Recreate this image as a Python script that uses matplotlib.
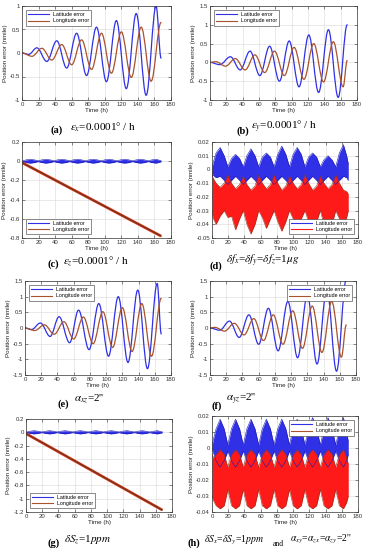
import numpy as np
import matplotlib
matplotlib.use("Agg")
import matplotlib.pyplot as plt
from matplotlib.path import Path
from matplotlib.patches import PathPatch
from matplotlib.lines import Line2D
from matplotlib.ticker import MultipleLocator, FuncFormatter

plt.rcParams['font.family'] = ['Liberation Sans', 'DejaVu Sans']
plt.rcParams['mathtext.fontset'] = 'stix'
plt.rcParams['axes.unicode_minus'] = False

BLUE = '#3030e6'
BROWN = '#a8522e'
RED = '#ff1a1a'

# ---- (a) eps_x : extrema (time h, error nmile)
a_lat_t = [0, 8, 18, 30, 42, 54, 66, 78, 90, 102, 114, 126, 138, 150, 162, 168]
a_lat_v = [0, -0.03, 0.11, -0.18, 0.26, -0.32, 0.42, -0.48, 0.55, -0.61, 0.69, -0.76, 0.84, -0.9, 1.0, -0.11]
a_lon_t = [0, 12, 24, 36, 48, 60, 72, 84, 96, 108, 120, 132, 144, 156, 168]
a_lon_v = [0, -0.07, 0.1, -0.15, 0.18, -0.25, 0.28, -0.35, 0.42, -0.43, 0.45, -0.52, 0.55, -0.6, 0.65]

# ---- (b) eps_y
b_lat_t = [0, 12, 25, 37, 49, 61, 73, 85, 97, 109, 121, 133, 145, 157, 168]
b_lat_v = [0, -0.06, 0.15, -0.2, 0.3, -0.35, 0.43, -0.5, 0.57, -0.65, 0.73, -0.8, 0.87, -0.93, 1.0]
b_lon_t = [0, 7, 19, 31, 43, 55, 67, 79, 91, 103, 115, 127, 139, 151, 163, 168]
b_lon_v = [0, 0.02, -0.1, 0.1, -0.2, 0.2, -0.27, 0.3, -0.35, 0.4, -0.45, 0.5, -0.52, 0.55, -0.65, 0.05]

# ---- (e) alpha_xz
e_lat_t = [0, 8, 19, 31, 42, 55, 66, 79, 91, 103, 115, 127, 139, 151, 163, 168]
e_lat_v = [0, -0.05, 0.16, -0.27, 0.36, -0.47, 0.57, -0.69, 0.78, -0.9, 1.0, -1.1, 1.21, -1.3, 1.42, -0.19]
e_lon_t = [0, 12, 24, 36, 48, 60, 72, 84, 96, 108, 120, 132, 144, 156, 168]
e_lon_v = [0, -0.08, 0.1, -0.2, 0.2, -0.35, 0.35, -0.5, 0.52, -0.62, 0.65, -0.75, 0.78, -0.9, 0.95]

# ---- (f) alpha_yz
f_lat_t = [0, 12, 24, 36, 48, 60, 72, 84, 96, 108, 120, 132, 144, 156, 168]
f_lat_v = [0, -0.07, 0.22, -0.3, 0.42, -0.52, 0.63, -0.73, 0.85, -0.95, 1.05, -1.15, 1.25, -1.38, 1.55]
f_lon_t = [0, 6, 18, 30, 42, 54, 66, 78, 90, 102, 114, 126, 138, 150, 162, 168]
f_lon_v = [0, 0.02, -0.1, 0.15, -0.22, 0.3, -0.4, 0.42, -0.52, 0.55, -0.65, 0.7, -0.78, 0.85, -0.93, 0.1]

# ---- band envelopes (lobe centres and nodes)
band_t = [0, 1, 5, 10, 15, 19.5, 24, 29, 34, 38.5, 43, 48, 53, 57.5, 62, 67, 72, 76.5, 81, 86,
          91, 95.5, 100, 105, 110, 114.5, 119, 124, 129, 133.5, 138, 143, 148, 152.5, 157, 162, 166, 168]

# (c) eps_z and (g) dS_z : latitude band half width, longitude ramp
c_half = [0.004, 0.004, 0.014, 0.02, 0.014, 0.004, 0.014, 0.02, 0.014, 0.004, 0.014, 0.02, 0.014, 0.004,
          0.014, 0.02, 0.014, 0.004, 0.014, 0.02, 0.014, 0.004, 0.014, 0.02, 0.014, 0.004, 0.014, 0.02,
          0.014, 0.004, 0.014, 0.02, 0.014, 0.004, 0.014, 0.02, 0.01, 0.006]
c_lon_t = [0, 168]
c_lon_v = [-0.015, -0.78]
g_half = [0.005, 0.005, 0.016, 0.024, 0.016, 0.005, 0.016, 0.024, 0.016, 0.005, 0.016, 0.024, 0.016, 0.005,
          0.016, 0.024, 0.016, 0.005, 0.016, 0.024, 0.016, 0.005, 0.016, 0.024, 0.016, 0.005, 0.016, 0.024,
          0.016, 0.005, 0.016, 0.024, 0.016, 0.005, 0.016, 0.024, 0.012, 0.008]
g_lon_t = [0, 168]
g_lon_v = [-0.02, -1.17]

# (d) accelerometer bias
d_lat_hi = [0, 0.004, 0.012, 0.016, 0.01, 0.002, 0.008, 0.011, 0.008, 0.002, 0.01, 0.015, 0.01, 0.002,
            0.009, 0.012, 0.009, 0.002, 0.011, 0.017, 0.011, 0.002, 0.011, 0.016, 0.011, 0.002, 0.009,
            0.012, 0.009, 0.002, 0.007, 0.01, 0.007, 0.002, 0.012, 0.018, 0.01, 0.004]
d_lat_lo = [0, -0.004, -0.006, -0.005, -0.008, -0.011, -0.008, -0.005, -0.008, -0.011, -0.008, -0.005,
            -0.008, -0.011, -0.008, -0.005, -0.008, -0.011, -0.008, -0.005, -0.008, -0.011, -0.008,
            -0.005, -0.008, -0.011, -0.008, -0.005, -0.008, -0.011, -0.008, -0.005, -0.008, -0.011,
            -0.008, -0.005, -0.006, -0.008]
d_lon_hi = [-0.002, -0.006, -0.01, -0.013, -0.01, -0.004, -0.01, -0.014, -0.011, -0.005, -0.011, -0.015,
            -0.012, -0.004, -0.01, -0.014, -0.011, -0.004, -0.01, -0.015, -0.012, -0.005, -0.01,
            -0.014, -0.011, -0.004, -0.01, -0.015, -0.012, -0.005, -0.01, -0.014, -0.011, -0.004,
            -0.01, -0.015, -0.016, -0.018]
d_lon_lo = [-0.03, -0.035, -0.04, -0.034, -0.03, -0.035, -0.034, -0.044, -0.036, -0.03, -0.04, -0.047,
            -0.04, -0.03, -0.035, -0.043, -0.036, -0.03, -0.038, -0.045, -0.038, -0.03, -0.036,
            -0.042, -0.036, -0.03, -0.038, -0.047, -0.038, -0.03, -0.04, -0.047, -0.04, -0.03, -0.036,
            -0.042, -0.035, -0.03]

# (h) scale factor + misalignment
h_lat_hi = [0, 0.004, 0.012, 0.018, 0.012, 0.002, 0.012, 0.018, 0.012, 0.002, 0.012, 0.018, 0.012, 0.002,
            0.012, 0.018, 0.012, 0.002, 0.012, 0.018, 0.012, 0.002, 0.012, 0.018, 0.012, 0.002, 0.012,
            0.019, 0.012, 0.002, 0.012, 0.019, 0.012, 0.002, 0.012, 0.019, 0.01, 0.004]
h_lat_lo = [0, -0.002, -0.008, -0.012, -0.008, -0.002, -0.008, -0.012, -0.008, -0.002, -0.008, -0.012,
            -0.008, -0.002, -0.008, -0.012, -0.008, -0.002, -0.008, -0.012, -0.008, -0.002, -0.008,
            -0.012, -0.008, -0.002, -0.008, -0.012, -0.008, -0.002, -0.008, -0.012, -0.008, -0.002,
            -0.008, -0.012, -0.008, -0.004]
h_lon_hi = [-0.004, -0.006, -0.004, -0.001, -0.004, -0.012, -0.004, -0.001, -0.004, -0.012, -0.004, -0.001,
            -0.004, -0.012, -0.004, -0.001, -0.004, -0.012, -0.004, -0.001, -0.004, -0.012, -0.004,
            -0.001, -0.004, -0.012, -0.004, -0.001, -0.004, -0.012, -0.004, -0.001, -0.004, -0.012,
            -0.004, -0.001, -0.006, -0.01]
h_lon_lo = [-0.03, -0.032, -0.036, -0.038, -0.036, -0.026, -0.036, -0.038, -0.036, -0.026, -0.036, -0.038,
            -0.036, -0.026, -0.036, -0.038, -0.036, -0.026, -0.036, -0.038, -0.036, -0.026, -0.036,
            -0.038, -0.036, -0.026, -0.036, -0.038, -0.036, -0.026, -0.036, -0.038, -0.036, -0.026,
            -0.036, -0.038, -0.034, -0.03]

fig = plt.figure(figsize=(3.66, 5.5), dpi=100)
W, H = 366.0, 550.0


def make_ax(x0, y0, x1, y1):
    return fig.add_axes([x0 / W, 1 - y1 / H, (x1 - x0) / W, (y1 - y0) / H])


def style(ax, ylim, ystep):
    ax.set_xlim(0, 180)
    ax.set_ylim(*ylim)
    ax.xaxis.set_major_locator(MultipleLocator(20))
    ax.yaxis.set_major_locator(MultipleLocator(ystep))
    ax.yaxis.set_major_formatter(FuncFormatter(lambda v, p: f'{round(v, 6) + 0.0:g}'))
    ax.tick_params(direction='in', length=2, width=0.4, labelsize=4.3, pad=1.5,
                   top=True, right=True, colors='#333333')
    ax.grid(True, color='#d9d9d9', lw=0.4)
    ax.set_axisbelow(True)
    for s in ax.spines.values():
        s.set_linewidth(0.5)
        s.set_color('#333333')
    ax.set_xlabel('Time (h)', fontsize=4.5, labelpad=0.8, color='#222222')
    ax.set_ylabel('Position error (nmile)', fontsize=4.5, labelpad=1.5, color='#222222')


def smooth_line(ax, t, v, color, lw=0.9):
    verts = [(t[0], v[0])]
    codes = [Path.MOVETO]
    for i in range(1, len(t)):
        dt = t[i] - t[i - 1]
        verts += [(t[i - 1] + 0.36 * dt, v[i - 1]), (t[i] - 0.36 * dt, v[i]), (t[i], v[i])]
        codes += [Path.CURVE4] * 3
    ax.add_patch(PathPatch(Path(verts, codes), fill=False, edgecolor=color, lw=lw,
                           capstyle='round', joinstyle='round'))


def legend(ax, loc, lon_color=BROWN):
    h = [Line2D([], [], color=BLUE, lw=0.8), Line2D([], [], color=lon_color, lw=0.8)]
    lg = ax.legend(h, ['Latitude error', 'Longitude error'], loc=loc, fontsize=3.8,
                   handlelength=4, borderpad=0.4, labelspacing=0.2, handletextpad=0.6,
                   fancybox=False, framealpha=1, edgecolor='#333333', borderaxespad=0.8)
    lg.get_frame().set_linewidth(0.4)


def band(ax, lo, hi, face, edge):
    ax.fill_between(band_t, lo, hi, color=face, lw=0)
    ax.plot(band_t, hi, color=edge, lw=0.4)
    ax.plot(band_t, lo, color=edge, lw=0.4)


def caption(xt, yt, tag, xf, yf, formula, size=8):
    fig.text(xt / W, 1 - yt / H, tag, fontsize=7.5, fontweight='bold', family='Liberation Serif',
             va='center', ha='left')
    fig.text(xf / W, 1 - yf / H, formula, fontsize=size, family='Liberation Serif',
             va='center', ha='left')


# (a)
ax = make_ax(22, 6, 171, 100)
style(ax, (-1, 1), 0.5)
smooth_line(ax, a_lat_t, a_lat_v, BLUE)
smooth_line(ax, a_lon_t, a_lon_v, BROWN)
legend(ax, 'upper left')
caption(51, 130, '(a)', 70, 127, r'$\varepsilon_x$=0.0001° / h')

# (b)
ax = make_ax(210, 6, 357, 100)
style(ax, (-1, 1.5), 0.5)
smooth_line(ax, b_lat_t, b_lat_v, BLUE)
smooth_line(ax, b_lon_t, b_lon_v, BROWN)
legend(ax, 'upper left')
caption(236, 131, '(b)', 251, 127, r'$\varepsilon_y$=0.0001° / h')

# (c)
ax = make_ax(22, 142, 171, 238)
style(ax, (-0.8, 0.2), 0.2)
band(ax, [-h for h in c_half], c_half, BLUE, '#1a1ab0')
ax.plot(c_lon_t, c_lon_v, color='#e03a20', lw=2.0, solid_capstyle='butt')
ax.plot(c_lon_t, c_lon_v, color='#6e3418', lw=0.9)
legend(ax, 'lower left')
caption(47, 264, '(c)', 63, 261, r'$\varepsilon_z$=0.0001° / h')

# (d)
ax = make_ax(212, 142, 358, 238)
style(ax, (-0.05, 0.02), 0.01)
band(ax, d_lat_lo, d_lat_hi, BLUE, '#1a1ab0')
band(ax, d_lon_lo, d_lon_hi, RED, '#8a3a1e')
legend(ax, 'lower right', lon_color=RED)
caption(209, 266, '(d)', 226, 261, r'$\delta f_x$=$\delta f_y$=$\delta f_z$=1$\mu g$')

# (e)
ax = make_ax(25, 281, 171, 375)
style(ax, (-1.5, 1.5), 0.5)
smooth_line(ax, e_lat_t, e_lat_v, BLUE)
smooth_line(ax, e_lon_t, e_lon_v, BROWN)
legend(ax, 'upper left')
caption(57, 404, '(e)', 74, 399, r"$\alpha_{xz}$=2''")

# (f)
ax = make_ax(210, 281, 356, 375)
style(ax, (-1.5, 1.5), 0.5)
smooth_line(ax, f_lat_t, f_lat_v, BLUE)
smooth_line(ax, f_lon_t, f_lon_v, BROWN)
legend(ax, 'upper right')
caption(211, 406, '(f)', 226, 399, r"$\alpha_{yz}$=2''")

# (g)
ax = make_ax(26, 419, 172, 512)
style(ax, (-1.2, 0.2), 0.2)
band(ax, [-h for h in g_half], g_half, BLUE, '#1a1ab0')
ax.plot(g_lon_t, g_lon_v, color='#e03a20', lw=2.0, solid_capstyle='butt')
ax.plot(g_lon_t, g_lon_v, color='#6e3418', lw=0.9)
legend(ax, 'lower left')
caption(47, 543, '(g)', 64, 540, r'$\delta S_z$=1$ppm$')

# (h)
ax = make_ax(212, 416, 358, 512)
style(ax, (-0.04, 0.02), 0.01)
band(ax, h_lat_lo, h_lat_hi, BLUE, '#1a1ab0')
band(ax, h_lon_lo, h_lon_hi, RED, '#8a3a1e')
legend(ax, 'upper right')
fig.text(187 / W, 1 - 543 / H, '(h)', fontsize=7.5, fontweight='bold', family='Liberation Serif',
         va='center')
fig.text(204 / W, 1 - 540 / H, r'$\delta S_x$=$\delta S_y$=1$ppm$', fontsize=7,
         family='Liberation Serif', va='center')
fig.text(273 / W, 1 - 544 / H, 'and', fontsize=5.5, family='Liberation Serif', va='center')
fig.text(290 / W, 1 - 539 / H, r"$\alpha_{xy}$=$\alpha_{zx}$=$\alpha_{zy}$=2''", fontsize=7,
         family='Liberation Serif', va='center')

fig.savefig('out.png', dpi=100)
